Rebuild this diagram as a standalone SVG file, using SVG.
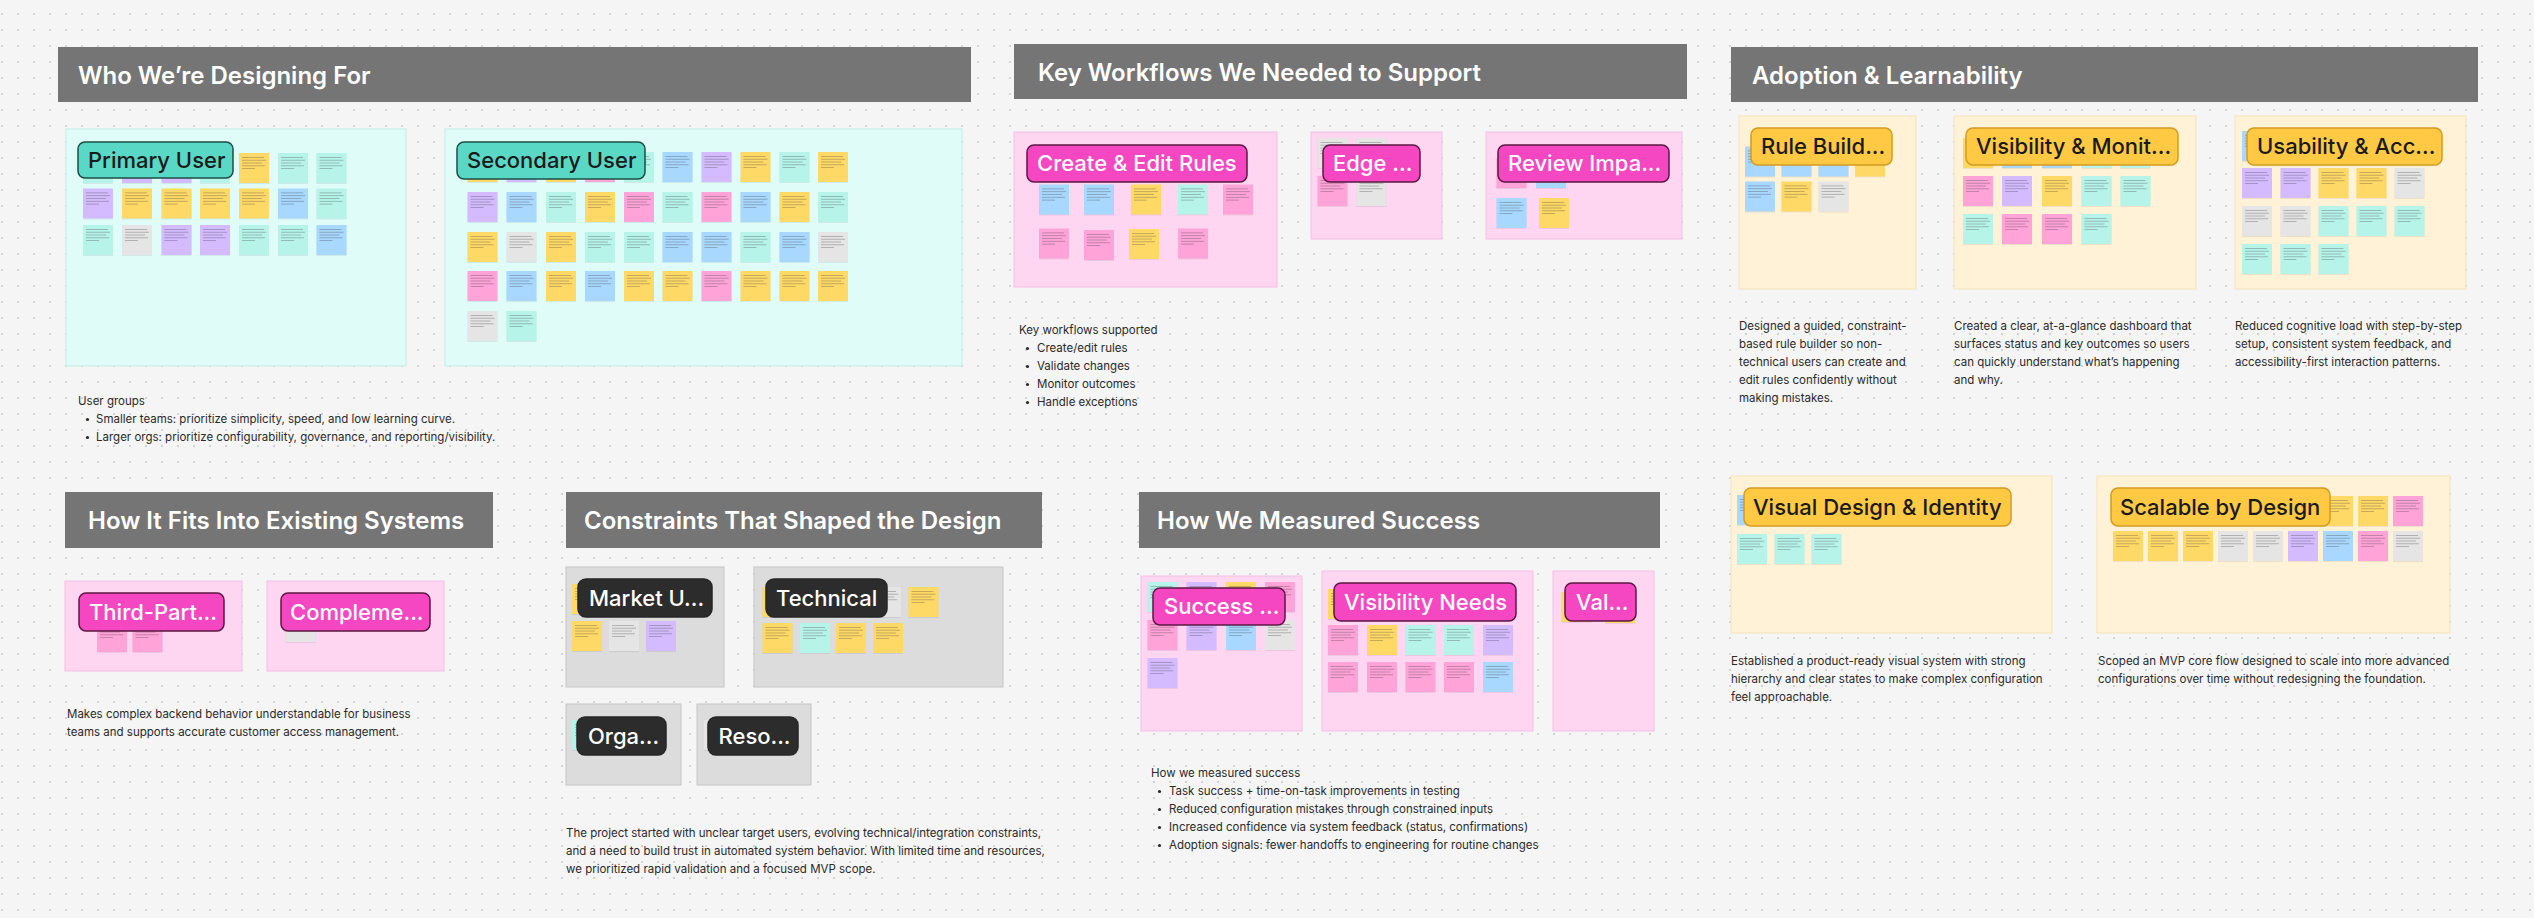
<svg xmlns="http://www.w3.org/2000/svg" xmlns:xlink="http://www.w3.org/1999/xlink" width="2534" height="918" viewBox="0 0 2534 918">
<style>
.hd{fill:#757575}
.ht{font-family:Inter,"Noto Sans",sans-serif;font-weight:600;font-size:24px;fill:#ffffff}
.fc{fill:#dffcf8;stroke:#c4ede7;stroke-width:1}
.fp{fill:#ffd6f1;stroke:#f4bfe3;stroke-width:1}
.fy{fill:#fff2d6;stroke:#f8e3b6;stroke-width:1}
.fg{fill:#dcdcdc;stroke:#c6c6c6;stroke-width:1}
.lt{fill:#5ad8c6;stroke:#1d4d45;stroke-width:1.5}
.lp{fill:#f547c1;stroke:#5c1842;stroke-width:1.5}
.ly{fill:#ffc944;stroke:#d59a20;stroke-width:1.5}
.ld{fill:#2c2c2c;stroke:#262626;stroke-width:1.5}
.lb{font-family:Inter,"Noto Sans",sans-serif;font-weight:500;font-size:22px;fill:#1a1a1a}
.lw{font-family:Inter,"Noto Sans",sans-serif;font-weight:500;font-size:22px;fill:#ffffff}
.tx{font-family:Inter,"Noto Sans",sans-serif;font-size:11.5px;fill:#2a2a2a}
.bu{fill:#2a2a2a}
.sh{fill:#000000;opacity:.07}
.ln{fill:#3c3c3c;opacity:.38}
</style>
<defs>
<pattern id="dots" x="1" y="13" width="16" height="16" patternUnits="userSpaceOnUse">
<circle cx="1" cy="1" r="1" fill="#c6c6c6"/>
</pattern>
<g id="ln" class="ln"><rect x="3" y="4" width="22" height="0.8"/><rect x="3" y="6.8" width="24" height="0.8"/><rect x="3" y="9.6" width="20" height="0.8"/><rect x="3" y="12.4" width="23" height="0.8"/><rect x="3" y="15.2" width="13" height="0.8"/></g>
<g id="sY"><rect class="sh" x="0" y="1" width="30" height="30"/><rect width="30" height="30" fill="#ffd966"/><use href="#ln"/></g>
<g id="sT"><rect class="sh" x="0" y="1" width="30" height="30"/><rect width="30" height="30" fill="#b6f4ea"/><use href="#ln"/></g>
<g id="sB"><rect class="sh" x="0" y="1" width="30" height="30"/><rect width="30" height="30" fill="#a8d7ff"/><use href="#ln"/></g>
<g id="sP"><rect class="sh" x="0" y="1" width="30" height="30"/><rect width="30" height="30" fill="#d4bbff"/><use href="#ln"/></g>
<g id="sK"><rect class="sh" x="0" y="1" width="30" height="30"/><rect width="30" height="30" fill="#ffa3d9"/><use href="#ln"/></g>
<g id="sG"><rect class="sh" x="0" y="1" width="30" height="30"/><rect width="30" height="30" fill="#e5e5e5"/><use href="#ln"/></g>
</defs>

<rect width="2534" height="918" fill="#f5f5f5"/>
<rect width="2534" height="918" fill="url(#dots)"/>

<!-- Headers -->
<g id="header-who"><rect class="hd" x="58" y="47" width="913" height="55"/><text class="ht" x="78" y="84">Who We’re Designing For</text></g>
<g id="header-workflows"><rect class="hd" x="1014" y="44" width="673" height="55"/><text class="ht" x="1038" y="81">Key Workflows We Needed to Support</text></g>
<g id="header-adoption"><rect class="hd" x="1731" y="47" width="747" height="55"/><text class="ht" x="1752" y="84">Adoption &amp; Learnability</text></g>
<g id="header-fits"><rect class="hd" x="65" y="492" width="428" height="56"/><text class="ht" x="88" y="529">How It Fits Into Existing Systems</text></g>
<g id="header-constraints"><rect class="hd" x="566" y="492" width="476" height="56"/><text class="ht" x="584" y="529">Constraints That Shaped the Design</text></g>
<g id="header-success"><rect class="hd" x="1139" y="492" width="521" height="56"/><text class="ht" x="1157" y="529">How We Measured Success</text></g>

<!-- Primary User -->
<g id="frame-primary-user">
<rect class="fc" x="66" y="129" width="340" height="237"/>
<use href="#sT" x="83" y="153"/><use href="#sP" x="122" y="153"/><use href="#sP" x="161.5" y="153"/><use href="#sT" x="200" y="153"/><use href="#sY" x="239" y="153"/><use href="#sT" x="278" y="153"/><use href="#sT" x="316.5" y="153"/>
<use href="#sP" x="83" y="188.5"/><use href="#sY" x="122" y="188.5"/><use href="#sY" x="161.5" y="188.5"/><use href="#sY" x="200" y="188.5"/><use href="#sY" x="239" y="188.5"/><use href="#sB" x="278" y="188.5"/><use href="#sT" x="316.5" y="188.5"/>
<use href="#sT" x="83" y="225"/><use href="#sG" x="122" y="225"/><use href="#sP" x="161.5" y="225"/><use href="#sP" x="200" y="225"/><use href="#sT" x="239" y="225"/><use href="#sT" x="278" y="225"/><use href="#sB" x="316.5" y="225"/>
<rect class="lt" x="78" y="142" width="155" height="36" rx="7"/>
<text class="lb" x="88" y="168">Primary User</text>
</g>

<!-- Secondary User -->
<g id="frame-secondary-user">
<rect class="fc" x="445" y="129" width="517" height="237"/>
<use href="#sY" x="467.5" y="152"/><use href="#sP" x="506.5" y="152"/><use href="#sY" x="546" y="152"/><use href="#sK" x="585" y="152"/><use href="#sT" x="624" y="152"/><use href="#sB" x="662.5" y="152"/><use href="#sP" x="701.5" y="152"/><use href="#sY" x="740.5" y="152"/><use href="#sT" x="779.5" y="152"/><use href="#sY" x="818" y="152"/>
<use href="#sP" x="467.5" y="192"/><use href="#sB" x="506.5" y="192"/><use href="#sT" x="546" y="192"/><use href="#sY" x="585" y="192"/><use href="#sK" x="624" y="192"/><use href="#sT" x="662.5" y="192"/><use href="#sK" x="701.5" y="192"/><use href="#sB" x="740.5" y="192"/><use href="#sY" x="779.5" y="192"/><use href="#sT" x="818" y="192"/>
<use href="#sY" x="467.5" y="232"/><use href="#sG" x="506.5" y="232"/><use href="#sY" x="546" y="232"/><use href="#sT" x="585" y="232"/><use href="#sT" x="624" y="232"/><use href="#sB" x="662.5" y="232"/><use href="#sB" x="701.5" y="232"/><use href="#sT" x="740.5" y="232"/><use href="#sB" x="779.5" y="232"/><use href="#sG" x="818" y="232"/>
<use href="#sK" x="467.5" y="271"/><use href="#sB" x="506.5" y="271"/><use href="#sY" x="546" y="271"/><use href="#sB" x="585" y="271"/><use href="#sY" x="624" y="271"/><use href="#sY" x="662.5" y="271"/><use href="#sK" x="701.5" y="271"/><use href="#sY" x="740.5" y="271"/><use href="#sY" x="779.5" y="271"/><use href="#sY" x="818" y="271"/>
<use href="#sG" x="467.5" y="311"/><use href="#sT" x="506.5" y="311"/>
<rect class="lt" x="457" y="142" width="188" height="37" rx="7"/>
<text class="lb" x="467" y="168">Secondary User</text>
</g>

<!-- Create & Edit Rules -->
<g id="frame-create-edit">
<rect class="fp" x="1014" y="132" width="263" height="155"/>
<use href="#sB" x="1039" y="184.5"/><use href="#sB" x="1084" y="184.5"/><use href="#sY" x="1131" y="184.5"/><use href="#sT" x="1178" y="184.5"/><use href="#sK" x="1223" y="184.5"/>
<use href="#sK" x="1039" y="228.5"/><use href="#sK" x="1084" y="230"/><use href="#sY" x="1129" y="229"/><use href="#sK" x="1178" y="228.5"/>
<rect class="lp" x="1027" y="145" width="220" height="37" rx="7"/>
<text class="lw" x="1037" y="171">Create &amp; Edit Rules</text>
</g>

<!-- Edge -->
<g id="frame-edge">
<rect class="fp" x="1311" y="132" width="131" height="107"/>
<use href="#sG" x="1317.5" y="138"/><use href="#sG" x="1356.5" y="138"/>
<use href="#sK" x="1317.5" y="176"/><use href="#sG" x="1356.5" y="176"/>
<rect class="lp" x="1323" y="145" width="97" height="37" rx="7"/>
<text class="lw" x="1333" y="171">Edge ...</text>
</g>

<!-- Review -->
<g id="frame-review">
<rect class="fp" x="1486" y="132" width="196" height="107"/>
<use href="#sK" x="1496.5" y="158"/><use href="#sB" x="1536" y="158"/>
<use href="#sB" x="1496.5" y="198"/><use href="#sY" x="1539" y="198"/>
<rect class="lp" x="1498" y="145" width="171" height="37" rx="7"/>
<text class="lw" x="1508" y="171">Review Impa...</text>
</g>

<!-- Rule Builder -->
<g id="frame-rule-builder">
<rect class="fy" x="1739" y="116" width="177" height="173"/>
<use href="#sB" x="1745" y="146.5"/><use href="#sB" x="1781.5" y="146.5"/><use href="#sB" x="1818.5" y="146.5"/><use href="#sY" x="1855" y="146.5"/>
<use href="#sB" x="1745" y="181.5"/><use href="#sY" x="1781.5" y="181.5"/><use href="#sG" x="1818.5" y="181.5"/>
<rect class="ly" x="1751" y="128" width="141" height="37" rx="7"/>
<text class="lb" x="1761" y="154">Rule Build...</text>
</g>

<!-- Visibility & Monitoring -->
<g id="frame-visibility-monitoring">
<rect class="fy" x="1954" y="116" width="242" height="173"/>
<use href="#sY" x="1963" y="138"/><use href="#sB" x="2002" y="138"/><use href="#sB" x="2042" y="138"/><use href="#sT" x="2081.5" y="138"/><use href="#sT" x="2120.5" y="138"/>
<use href="#sK" x="1963" y="176"/><use href="#sP" x="2002" y="176"/><use href="#sY" x="2042" y="176"/><use href="#sT" x="2081.5" y="176"/><use href="#sT" x="2120.5" y="176"/>
<use href="#sT" x="1963" y="214"/><use href="#sK" x="2002" y="214"/><use href="#sK" x="2042" y="214"/><use href="#sT" x="2081.5" y="214"/>
<rect class="ly" x="1966" y="128" width="212" height="37" rx="7"/>
<text class="lb" x="1976" y="154">Visibility &amp; Monit...</text>
</g>

<!-- Usability & Accessibility -->
<g id="frame-usability">
<rect class="fy" x="2235" y="116" width="231" height="173"/>
<use href="#sB" x="2242" y="131"/>
<use href="#sP" x="2242" y="168"/><use href="#sP" x="2280.5" y="168"/><use href="#sY" x="2318.5" y="168"/><use href="#sY" x="2356.5" y="168"/><use href="#sG" x="2394.5" y="168"/>
<use href="#sG" x="2242" y="206"/><use href="#sG" x="2280.5" y="206"/><use href="#sT" x="2318.5" y="206"/><use href="#sT" x="2356.5" y="206"/><use href="#sT" x="2394.5" y="206"/>
<use href="#sT" x="2242" y="244"/><use href="#sT" x="2280.5" y="244"/><use href="#sT" x="2318.5" y="244"/>
<rect class="ly" x="2247" y="128" width="195" height="37" rx="7"/>
<text class="lb" x="2257" y="154">Usability &amp; Acc...</text>
</g>

<!-- Third-Party -->
<g id="frame-third-party">
<rect class="fp" x="65" y="581" width="177" height="90"/>
<use href="#sK" x="97" y="622"/><use href="#sK" x="132.5" y="622"/>
<rect class="lp" x="79" y="593" width="145" height="38" rx="7"/>
<text class="lw" x="89" y="620">Third-Part...</text>
</g>

<!-- Complementary -->
<g id="frame-complementary">
<rect class="fp" x="267" y="581" width="177" height="90"/>
<use href="#sG" x="285.5" y="612"/>
<rect class="lp" x="281" y="593" width="149" height="38" rx="7"/>
<text class="lw" x="290" y="620">Compleme...</text>
</g>

<!-- Market -->
<g id="frame-market">
<rect class="fg" x="566" y="567" width="158" height="120"/>
<use href="#sY" x="572" y="584"/>
<use href="#sY" x="572" y="621"/><use href="#sG" x="609" y="621"/><use href="#sP" x="646" y="621"/>
<rect class="ld" x="578" y="579" width="134" height="38" rx="8"/>
<text class="lw" x="589" y="606">Market U...</text>
</g>

<!-- Technical -->
<g id="frame-technical">
<rect class="fg" x="754" y="567" width="249" height="120"/>
<use href="#sY" x="762.5" y="587"/><use href="#sG" x="871" y="587"/><use href="#sY" x="908.5" y="587"/>
<use href="#sY" x="762.5" y="623"/><use href="#sT" x="800" y="623"/><use href="#sY" x="836" y="623"/><use href="#sY" x="873" y="623"/>
<rect class="ld" x="766" y="579" width="121" height="38" rx="8"/>
<text class="lw" x="776" y="606">Technical</text>
</g>

<!-- Organizational -->
<g id="frame-organizational">
<rect class="fg" x="566" y="704" width="115" height="81"/>
<use href="#sT" x="572" y="720"/>
<rect class="ld" x="577" y="717" width="89" height="38" rx="8"/>
<text class="lw" x="588" y="744">Orga...</text>
</g>

<!-- Resources -->
<g id="frame-resources">
<rect class="fg" x="697" y="704" width="114" height="81"/>
<use href="#sG" x="704" y="720"/>
<rect class="ld" x="708" y="717" width="90" height="38" rx="8"/>
<text class="lw" x="718.5" y="744">Reso...</text>
</g>

<!-- Success -->
<g id="frame-success">
<rect class="fp" x="1141" y="576" width="161" height="155"/>
<use href="#sT" x="1147.5" y="582"/><use href="#sP" x="1186.5" y="582"/><use href="#sY" x="1226" y="582"/><use href="#sK" x="1265" y="582"/>
<use href="#sK" x="1147.5" y="620"/><use href="#sP" x="1186.5" y="620"/><use href="#sB" x="1226" y="620"/><use href="#sG" x="1265" y="620"/>
<use href="#sP" x="1147.5" y="658"/>
<rect class="lp" x="1153" y="588" width="132" height="37" rx="7"/>
<text class="lw" x="1164" y="614">Success ...</text>
</g>

<!-- Visibility Needs -->
<g id="frame-visibility-needs">
<rect class="fp" x="1322" y="571" width="211" height="160"/>
<use href="#sY" x="1328" y="589"/>
<use href="#sK" x="1328" y="625"/><use href="#sY" x="1367" y="625"/><use href="#sT" x="1405.5" y="625"/><use href="#sT" x="1444" y="625"/><use href="#sP" x="1483" y="625"/>
<use href="#sK" x="1328" y="662"/><use href="#sK" x="1367" y="662"/><use href="#sK" x="1405.5" y="662"/><use href="#sK" x="1444" y="662"/><use href="#sB" x="1483" y="662"/>
<rect class="lp" x="1334" y="583" width="182" height="38" rx="7"/>
<text class="lw" x="1344" y="610">Visibility Needs</text>
</g>

<!-- Validation -->
<g id="frame-validation">
<rect class="fp" x="1553" y="571" width="101" height="160"/>
<use href="#sY" x="1561.5" y="592"/><use href="#sY" x="1605" y="593"/>
<rect class="lp" x="1565" y="583" width="71" height="38" rx="7"/>
<text class="lw" x="1576" y="610">Val...</text>
</g>

<!-- Visual Design & Identity -->
<g id="frame-visual-design">
<rect class="fy" x="1731" y="476" width="321" height="157"/>
<use href="#sB" x="1737" y="495"/>
<use href="#sT" x="1737" y="534"/><use href="#sT" x="1774.5" y="534"/><use href="#sT" x="1811.5" y="534"/>
<rect class="ly" x="1744" y="488" width="267" height="38" rx="7"/>
<text class="lb" x="1753" y="515">Visual Design &amp; Identity</text>
</g>

<!-- Scalable by Design -->
<g id="frame-scalable">
<rect class="fy" x="2097" y="476" width="353" height="157"/>
<use href="#sY" x="2323" y="496"/><use href="#sY" x="2358" y="496"/><use href="#sK" x="2393" y="496"/>
<use href="#sY" x="2113" y="531"/><use href="#sY" x="2148" y="531"/><use href="#sY" x="2183" y="531"/><use href="#sG" x="2218" y="531"/><use href="#sG" x="2253" y="531"/><use href="#sP" x="2288" y="531"/><use href="#sB" x="2323" y="531"/><use href="#sK" x="2358" y="531"/><use href="#sG" x="2393" y="531"/>
<rect class="ly" x="2111" y="488" width="219" height="38" rx="7"/>
<text class="lb" x="2120" y="515">Scalable by Design</text>
</g>

<!-- Text blocks -->
<g id="text-user-groups">
<text class="tx" x="78" y="405">User groups</text>
<circle class="bu" cx="87.5" cy="419.5" r="1.6"/><text class="tx" x="96" y="423">Smaller teams: prioritize simplicity, speed, and low learning curve.</text>
<circle class="bu" cx="87.5" cy="437.5" r="1.6"/><text class="tx" x="96" y="441">Larger orgs: prioritize configurability, governance, and reporting/visibility.</text>
</g>
<g id="text-workflows">
<text class="tx" x="1019" y="334">Key workflows supported</text>
<circle class="bu" cx="1027.5" cy="348.5" r="1.6"/><text class="tx" x="1037" y="352">Create/edit rules</text>
<circle class="bu" cx="1027.5" cy="366.5" r="1.6"/><text class="tx" x="1037" y="370">Validate changes</text>
<circle class="bu" cx="1027.5" cy="384.5" r="1.6"/><text class="tx" x="1037" y="388">Monitor outcomes</text>
<circle class="bu" cx="1027.5" cy="402.5" r="1.6"/><text class="tx" x="1037" y="406">Handle exceptions</text>
</g>
<g id="text-rule-builder">
<text class="tx" x="1739" y="330">Designed a guided, constraint-</text>
<text class="tx" x="1739" y="348">based rule builder so non-</text>
<text class="tx" x="1739" y="366">technical users can create and</text>
<text class="tx" x="1739" y="384">edit rules confidently without</text>
<text class="tx" x="1739" y="402">making mistakes.</text>
</g>
<g id="text-visibility">
<text class="tx" x="1954" y="330">Created a clear, at-a-glance dashboard that</text>
<text class="tx" x="1954" y="348">surfaces status and key outcomes so users</text>
<text class="tx" x="1954" y="366">can quickly understand what’s happening</text>
<text class="tx" x="1954" y="384">and why.</text>
</g>
<g id="text-usability">
<text class="tx" x="2235" y="330">Reduced cognitive load with step-by-step</text>
<text class="tx" x="2235" y="348">setup, consistent system feedback, and</text>
<text class="tx" x="2235" y="366">accessibility-first interaction patterns.</text>
</g>
<g id="text-fits">
<text class="tx" x="67" y="718">Makes complex backend behavior understandable for business</text>
<text class="tx" x="67" y="736">teams and supports accurate customer access management.</text>
</g>
<g id="text-constraints">
<text class="tx" x="566" y="837">The project started with unclear target users, evolving technical/integration constraints,</text>
<text class="tx" x="566" y="855">and a need to build trust in automated system behavior. With limited time and resources,</text>
<text class="tx" x="566" y="873">we prioritized rapid validation and a focused MVP scope.</text>
</g>
<g id="text-success">
<text class="tx" x="1151" y="777">How we measured success</text>
<circle class="bu" cx="1159.5" cy="791.5" r="1.6"/><text class="tx" x="1169" y="795">Task success + time-on-task improvements in testing</text>
<circle class="bu" cx="1159.5" cy="809.5" r="1.6"/><text class="tx" x="1169" y="813">Reduced configuration mistakes through constrained inputs</text>
<circle class="bu" cx="1159.5" cy="827.5" r="1.6"/><text class="tx" x="1169" y="831">Increased confidence via system feedback (status, confirmations)</text>
<circle class="bu" cx="1159.5" cy="845.5" r="1.6"/><text class="tx" x="1169" y="849">Adoption signals: fewer handoffs to engineering for routine changes</text>
</g>
<g id="text-visual">
<text class="tx" x="1731" y="665">Established a product-ready visual system with strong</text>
<text class="tx" x="1731" y="683">hierarchy and clear states to make complex configuration</text>
<text class="tx" x="1731" y="701">feel approachable.</text>
</g>
<g id="text-scalable">
<text class="tx" x="2098" y="665">Scoped an MVP core flow designed to scale into more advanced</text>
<text class="tx" x="2098" y="683">configurations over time without redesigning the foundation.</text>
</g>
</svg>
